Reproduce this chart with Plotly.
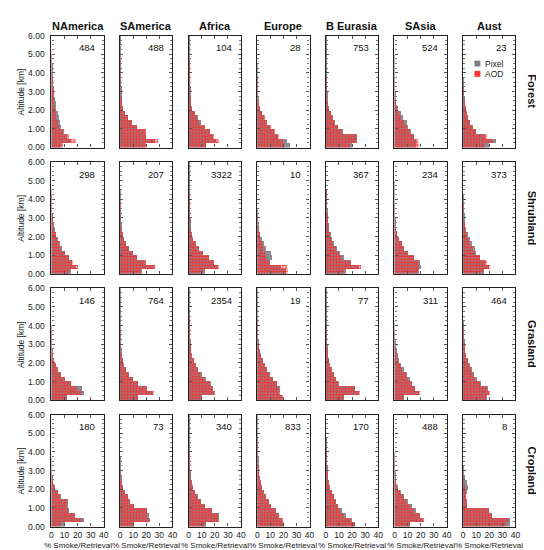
import plotly.graph_objects as go
from plotly.subplots import make_subplots

regions = ["NAmerica", "SAmerica", "Africa", "Europe", "B Eurasia", "SAsia", "Aust"]
land_types = ["Forest", "Shrubland", "Grasland", "Cropland"]

# altitude bin centres [km], 0.25 km bins
alt_km = [0.125, 0.375, 0.625, 0.875, 1.125, 1.375, 1.625, 1.875,
          2.125, 2.375, 2.625, 2.875, 3.125, 3.375, 3.625, 3.875,
          4.125, 4.375, 4.625, 4.875, 5.125, 5.375, 5.625, 5.875]

# number of cases in each panel
forest_n = [484, 488, 104, 28, 753, 524, 23]
shrub_n = [298, 207, 3322, 10, 367, 234, 373]
grass_n = [146, 764, 2354, 19, 77, 311, 464]
crop_n = [180, 73, 340, 833, 170, 488, 8]

# % smoke per altitude bin, one list per region (bottom bin first)
forest_pixel = [
    [8, 15, 12, 10, 8, 7, 6, 5, 4, 3.5, 3, 2.5, 2, 1.8, 1.5, 1.3, 1.1, 0.8, 0.3, 0.1],
    [19, 27, 20, 19, 13, 9, 6, 4, 2.5, 1.8, 1.2, 1, 0.8, 0.6, 0.5, 0.4, 0.3, 0.3, 0.2, 0.2, 0.2, 0.2, 0.2, 0.2],
    [13, 21, 18, 16, 12, 9, 6.5, 4.5, 2.5, 1.5, 1.2, 1, 0.8, 0.6, 0.5, 0.4, 0.3, 0.3, 0.3, 0.2, 0.2, 0.2, 0.2, 0.2],
    [25, 23, 16, 13, 10, 8, 5.5, 3.8, 2.3, 1.3, 0.8, 0.6, 0.4, 0.3, 0.2, 0.2, 0.1, 0.1],
    [20, 24, 24, 13, 9, 7, 5, 3.5, 2.5, 1.5, 1, 0.8, 0.6, 0.5, 0.4, 0.3, 0.3, 0.2, 0.2, 0.2, 0.1, 0.1, 0.1, 0.1],
    [17, 17, 15, 13, 11, 10, 7, 5, 3, 1.8, 1.2, 0.9, 0.7, 0.5, 0.4, 0.3, 0.2, 0.2, 0.1, 0.1],
    [20, 25, 17, 10, 7.5, 5, 4, 3, 2, 1.2, 0.8, 0.5, 0.3, 0.2, 0.1],
]
forest_aod = [
    [9, 19, 14, 9, 6, 5, 4, 3.5, 3, 2.5, 2, 2, 1.8, 1.5, 1.3, 1.1, 1, 0.8, 0.6, 0.5, 0.4, 0.3, 0.3, 0.2],
    [20, 29, 20, 20, 13, 9, 6, 3.5, 2.5, 1.8, 1.3, 1, 0.8, 0.7, 0.6, 0.5, 0.5, 0.4, 0.4, 0.3, 0.3, 0.3, 0.3, 0.3],
    [13, 23, 19, 16, 12, 8, 6, 4.5, 2.5, 1.5, 1.2, 1, 0.8, 0.7, 0.6, 0.5, 0.5, 0.4, 0.4, 0.3, 0.3, 0.3, 0.3, 0.2],
    [21, 20, 17, 14, 11, 8, 6, 4, 2.5, 1.5, 1, 0.8, 0.6, 0.5, 0.4, 0.3, 0.3, 0.2, 0.2, 0.2, 0.1, 0.1, 0.1, 0.1],
    [18, 24, 24, 12, 9, 7, 5, 3.5, 2.5, 1.5, 1, 0.8, 0.6, 0.5, 0.4, 0.3, 0.3, 0.3, 0.2, 0.2, 0.2, 0.2, 0.2, 0.2],
    [19, 18, 15, 12, 10, 7.5, 5.5, 4, 2.5, 1.5, 1, 0.8, 0.6, 0.5, 0.4, 0.3, 0.3, 0.2, 0.2, 0.2, 0.2, 0.2, 0.1, 0.1],
    [17, 23, 18, 10, 7.5, 5, 4, 3, 2, 1.2, 0.8, 0.5, 0.4, 0.3, 0.2, 0.2, 0.1, 0.1, 0.1],
]
shrub_pixel = [
    [15, 19, 16, 14, 11, 8.5, 6.5, 5, 4, 3, 2, 1.5, 1, 0.7, 0.5, 0.3, 0.2, 0.1],
    [17, 26, 19, 13, 10, 7, 4.5, 3, 2, 1.3, 1, 0.7, 0.5, 0.4, 0.3, 0.2, 0.2, 0.1],
    [12, 22, 19, 15, 11, 7.5, 5, 3.3, 2.3, 1.5, 1.1, 0.8, 0.6, 0.5, 0.4, 0.3, 0.3, 0.2, 0.2, 0.2, 0.1, 0.1, 0.1, 0.1],
    [22, 18, 10, 11.5, 11, 7, 5, 3.5, 2.5, 1.5, 1, 0.5, 0.3, 0.1],
    [15, 25, 19, 13.5, 11, 8.5, 6, 4.5, 3.5, 2.5, 2, 1.5, 1, 0.8, 0.5, 0.3, 0.2, 0.1],
    [19, 21, 20, 15, 11, 8, 6, 4, 2.5, 1.5, 1, 0.8, 0.5, 0.4, 0.3, 0.2, 0.2, 0.1, 0.1, 0.1],
    [16, 20, 17, 13, 10, 9, 7, 5, 3.5, 2.5, 1.8, 1.2, 0.8, 0.5, 0.3, 0.2, 0.1],
]
shrub_aod = [
    [14, 21, 17, 14, 11, 8, 6, 4.5, 3.5, 2.5, 1.8, 1.2, 1, 0.8, 0.6, 0.5, 0.4, 0.3, 0.3, 0.2, 0.2, 0.2, 0.2, 0.2],
    [16, 27, 20, 13, 10, 7, 4.5, 3, 2, 1.3, 1, 0.8, 0.6, 0.5, 0.4, 0.3, 0.3, 0.3, 0.2, 0.2, 0.2, 0.2, 0.2, 0.2],
    [11, 23, 19, 15, 11, 7.5, 5, 3.3, 2.3, 1.5, 1.1, 0.9, 0.7, 0.6, 0.5, 0.4, 0.4, 0.3, 0.3, 0.3, 0.2, 0.2, 0.2, 0.2],
    [24, 23, 10, 7, 6, 4.5, 3.5, 2.5, 2, 1.5, 1, 0.8, 0.5, 0.3, 0.2, 0.1],
    [14, 27, 19, 12.5, 10, 7.5, 5.5, 3.8, 3, 2.5, 2, 1.5, 1.2, 1, 0.8, 0.6, 0.5, 0.4, 0.3, 0.3, 0.2, 0.2, 0.2, 0.2],
    [18, 19, 19, 15, 11, 8, 6, 4, 2.5, 1.5, 1, 0.8, 0.6, 0.5, 0.4, 0.3, 0.3, 0.2, 0.2, 0.2, 0.2, 0.2, 0.2, 0.2],
    [15, 21, 18, 13, 9.5, 7.5, 5.5, 4, 3, 2, 1.5, 1, 0.8, 0.5, 0.4, 0.3, 0.2, 0.2, 0.1, 0.1, 0.1, 0.1, 0.1, 0.1],
]
grass_pixel = [
    [12, 25, 24, 15, 10.5, 8, 5.5, 3.8, 2.3, 1.5, 1, 0.7, 0.5, 0.3, 0.2, 0.1],
    [14, 25, 21, 14, 10, 7, 4.5, 3, 2, 1.3, 1, 0.7, 0.5, 0.4, 0.3, 0.2, 0.2, 0.1, 0.1, 0.1, 0.1, 0.1, 0.1, 0.1],
    [10, 19, 18, 17, 13, 10, 7, 5, 3.5, 2.5, 1.8, 1.2, 0.9, 0.7, 0.5, 0.4, 0.3, 0.3, 0.2, 0.2, 0.2, 0.2, 0.1, 0.1],
    [19, 17, 17.5, 15, 12.5, 10, 7.5, 5.8, 4.3, 3.3, 2.3, 1.5, 1, 0.7, 0.5, 0.4, 0.3, 0.2, 0.2, 0.1, 0.1, 0.1, 0.1, 0.1],
    [14, 25, 22, 10, 8, 6, 4.5, 3.3, 2.5, 1.8, 1.2, 0.9, 0.7, 0.5, 0.4, 0.3, 0.2, 0.2, 0.1, 0.1, 0.1, 0.1, 0.1, 0.1],
    [8, 19, 16, 14, 12, 10, 7.5, 5.5, 4, 2.8, 2, 1.3, 0.8, 0.5, 0.3, 0.2, 0.1],
    [18, 20, 19, 14, 11, 8.5, 6.5, 5, 3.5, 2.5, 1.8, 1.2, 0.8, 0.5, 0.3, 0.2, 0.1],
]
grass_aod = [
    [12, 24, 20, 15, 10.5, 8, 5.5, 3.8, 2.3, 1.5, 1, 0.8, 0.6, 0.5, 0.4, 0.3, 0.3, 0.3, 0.2, 0.2, 0.2, 0.2, 0.2, 0.2],
    [14, 26, 21, 14, 10, 7, 4.5, 3, 2, 1.3, 1, 0.8, 0.6, 0.5, 0.4, 0.3, 0.3, 0.3, 0.2, 0.2, 0.2, 0.2, 0.2, 0.2],
    [9, 20, 18, 16, 12, 9.5, 7, 5, 3.5, 2.5, 1.8, 1.3, 1, 0.8, 0.6, 0.5, 0.4, 0.4, 0.3, 0.3, 0.3, 0.2, 0.2, 0.2],
    [20, 17.5, 16.5, 15, 12.5, 10, 7.5, 5.8, 4.3, 3.3, 2.3, 1.5, 1, 0.8, 0.6, 0.5, 0.4, 0.3, 0.3, 0.2, 0.2, 0.2, 0.2, 0.2],
    [14, 26, 22, 9.5, 7.5, 5.8, 4.5, 3.3, 2.5, 1.8, 1.3, 1, 0.8, 0.6, 0.5, 0.4, 0.3, 0.3, 0.2, 0.2, 0.2, 0.2, 0.2, 0.2],
    [7.5, 20, 16, 14, 11, 9, 6.3, 4.5, 3, 2, 1.5, 1, 0.8, 0.5, 0.4, 0.3, 0.3, 0.2, 0.2, 0.2, 0.2, 0.2, 0.2, 0.2],
    [17.5, 21, 18, 13, 9.5, 7.5, 5.8, 4.5, 3.5, 2.5, 1.8, 1.3, 1, 0.7, 0.5, 0.4, 0.3, 0.3, 0.2, 0.2, 0.2, 0.2, 0.2, 0.2],
]
crop_pixel = [
    [11, 25, 18, 14, 13, 13, 7.5, 5.5, 3, 1.5, 1, 0.5, 0.3, 0.2, 0.1],
    [11, 23, 22, 21, 11, 8, 6, 4, 2.5, 1.5, 1, 0.5, 0.3, 0.2, 0.1],
    [13, 23, 23, 17.5, 12.5, 9, 6.5, 4.5, 3, 2, 1.5, 1, 0.7, 0.5, 0.4, 0.3, 0.2, 0.2, 0.1, 0.1, 0.1, 0.1, 0.1, 0.1],
    [20, 19, 17, 14.5, 11, 9, 7, 5.3, 4, 3, 2.3, 1.8, 1.3, 1, 0.8, 0.6, 0.5, 0.4, 0.3, 0.2, 0.2, 0.1, 0.1, 0.1],
    [22, 19.5, 15, 12, 9.5, 7.5, 5.8, 4.3, 3.3, 2.5, 1.8, 1.3, 0.9, 0.6, 0.4, 0.3, 0.2, 0.1, 0.1],
    [12, 22, 20, 17, 13.5, 11, 8, 5, 3, 1.8, 1.2, 0.8, 0.5, 0.3, 0.2, 0.1],
    [36, 36, 22, 20, 3, 3, 2.5, 3, 3.5, 3, 1, 0.5, 0.3],
]
crop_aod = [
    [8, 24, 18, 13, 12, 12, 7, 5, 3, 1.5, 1, 0.5, 0.3, 0.2, 0.1],
    [10.5, 22, 21, 21, 10.5, 8, 6, 4, 2.5, 1.5, 1, 0.5, 0.3, 0.2, 0.2, 0.1, 0.1, 0.1, 0.1, 0.1, 0.1, 0.1, 0.1, 0.1],
    [12.5, 22.5, 22.5, 17.5, 12.5, 8.8, 6.3, 4.3, 3, 2, 1.5, 1, 0.8, 0.6, 0.5, 0.4, 0.3, 0.3, 0.2, 0.2, 0.2, 0.2, 0.2, 0.2],
    [21, 19.5, 17, 14.5, 11, 9, 7, 5.3, 4, 3, 2.3, 1.8, 1.4, 1.1, 0.9, 0.7, 0.6, 0.5, 0.4, 0.3, 0.3, 0.2, 0.2, 0.2],
    [22.5, 19, 14, 11, 9, 7.5, 5.8, 4.3, 3.3, 2.5, 1.8, 1.3, 1, 0.7, 0.5, 0.4, 0.3, 0.3, 0.2, 0.2, 0.2, 0.2, 0.2, 0.2],
    [12, 23, 19.5, 15.5, 12, 9.5, 7, 4.5, 2.5, 1.5, 1, 0.8, 0.6, 0.5, 0.4, 0.3, 0.3, 0.2, 0.2, 0.2, 0.2, 0.2, 0.2, 0.2],
    [33, 35, 22, 20, 3, 3, 2.5, 2, 1.5, 1, 0.5, 0.3, 0.2],
]

pixel_rows = [forest_pixel, shrub_pixel, grass_pixel, crop_pixel]
aod_rows = [forest_aod, shrub_aod, grass_aod, crop_aod]
count_rows = [forest_n, shrub_n, grass_n, crop_n]

GRAY = "#8a8a90"
RED = "#ff2b2b"
FONT = "Liberation Sans"

W, H = 544, 550
# panel geometry in pixels (margins are zero, so paper == pixels)
PX0, PW, PDX = 42, 53, 69.5
PY0, PH, PDY = 23, 114, 128.7

fig = make_subplots(rows=4, cols=7)


def pad(vals):
    return list(vals) + [0] * (len(alt_km) - len(vals))


def sfx(n):
    return "" if n == 1 else str(n)


for r in range(4):
    for c in range(7):
        n = r * 7 + c + 1
        x0 = PX0 + c * PDX
        y0 = PY0 + r * PDY
        fig.layout["xaxis" + sfx(n)].domain = [x0 / W, (x0 + PW) / W]
        fig.layout["yaxis" + sfx(n)].domain = [1 - (y0 + PH) / H, 1 - y0 / H]

        fig.add_trace(go.Bar(x=pad(pixel_rows[r][c]), y=alt_km, orientation="h", width=0.25,
                             marker=dict(color=GRAY, line=dict(width=0)), showlegend=False,
                             hoverinfo="skip"), row=r + 1, col=c + 1)
        fig.add_trace(go.Bar(x=pad(aod_rows[r][c]), y=alt_km, orientation="h", width=0.25,
                             marker=dict(color="rgba(0,0,0,0)", line=dict(width=0),
                                         pattern=dict(shape=".", fgcolor=RED, size=3, solidity=0.55,
                                                      fillmode="replace")),
                             showlegend=False, hoverinfo="skip"), row=r + 1, col=c + 1)
        fig.add_annotation(text=str(count_rows[r][c]), xref="x%s domain" % sfx(n),
                           yref="y%s domain" % sfx(n), x=0.87, y=1 - 12.5 / PH, xanchor="right",
                           yanchor="middle", showarrow=False,
                           font=dict(family=FONT, size=9.5, color="#111"))

fig.update_xaxes(range=[0, 40], tickvals=[0, 10, 20, 30, 40], showticklabels=False,
                 ticks="inside", ticklen=3, tickcolor="#555", showline=True, linecolor="#222",
                 linewidth=1.2, mirror="ticks", showgrid=False, zeroline=False)
fig.update_yaxes(range=[0, 6], dtick=1, showticklabels=False, ticks="inside", ticklen=3,
                 tickcolor="#555", minor=dict(dtick=0.25, ticks="inside", ticklen=2, tickcolor="#777"),
                 showline=True, linecolor="#222", linewidth=1.2, mirror="ticks",
                 showgrid=False, zeroline=False)
for r in range(4):
    fig.update_yaxes(showticklabels=True, tickformat=".2f", ticklabelstandoff=4,
                     tickfont=dict(family=FONT, size=8.5, color="#222"), row=r + 1, col=1)
for c in range(7):
    fig.update_xaxes(showticklabels=True, tickfont=dict(family=FONT, size=8.5, color="#222"),
                     row=4, col=c + 1)
    fig.add_annotation(text="% Smoke/Retrieval", xref="x%s domain" % sfx(21 + c + 1), yref="paper",
                       x=0.5, y=1 - 542 / H, xanchor="center", yanchor="middle", showarrow=False,
                       font=dict(family=FONT, size=8, color="#222"))

# column titles
for c, name in enumerate(regions):
    fig.add_annotation(text="<b>%s</b>" % name, xref="x%s domain" % sfx(c + 1), yref="paper",
                       x=0.5, y=1 - 13 / H, xanchor="center", yanchor="middle", showarrow=False,
                       font=dict(family=FONT, size=11, color="#111"))

# row labels and y titles
for r, name in enumerate(land_types):
    fig.add_annotation(text="<b>%s</b>" % name, xref="paper", yref="y%s domain" % sfx(r * 7 + 7),
                       x=529 / W, y=0.5, xanchor="center", yanchor="middle", textangle=90,
                       showarrow=False, font=dict(family=FONT, size=11, color="#111"))
    fig.add_annotation(text="Altitude [km]", xref="paper", yref="y%s domain" % sfx(r * 7 + 1),
                       x=11 / W, y=0.5, xanchor="center", yanchor="middle", textangle=-90,
                       showarrow=False, font=dict(family=FONT, size=8.5, color="#222"))

# legend inside the Aust / Forest panel
legend_items = [("Pixel", "#7c7c88", 51.5), ("AOD", "#ff3030", 62)]
for label, colr, yc in legend_items:
    fig.add_shape(type="rect", xref="paper", yref="paper", x0=470.5 / W, x1=476.5 / W,
                  y0=1 - (yc + 3) / H, y1=1 - (yc - 3) / H, fillcolor=colr, line_width=0)
    fig.add_annotation(text=label, xref="paper", yref="paper", x=479.5 / W, y=1 - yc / H,
                       xanchor="left", yanchor="middle", showarrow=False,
                       font=dict(family=FONT, size=8.5, color="#222"))

fig.update_layout(
    width=W, height=H, barmode="overlay", bargap=0, showlegend=False,
    plot_bgcolor="white", paper_bgcolor="white",
    margin=dict(l=0, r=0, t=0, b=0),
)

fig.write_html("out.html")
